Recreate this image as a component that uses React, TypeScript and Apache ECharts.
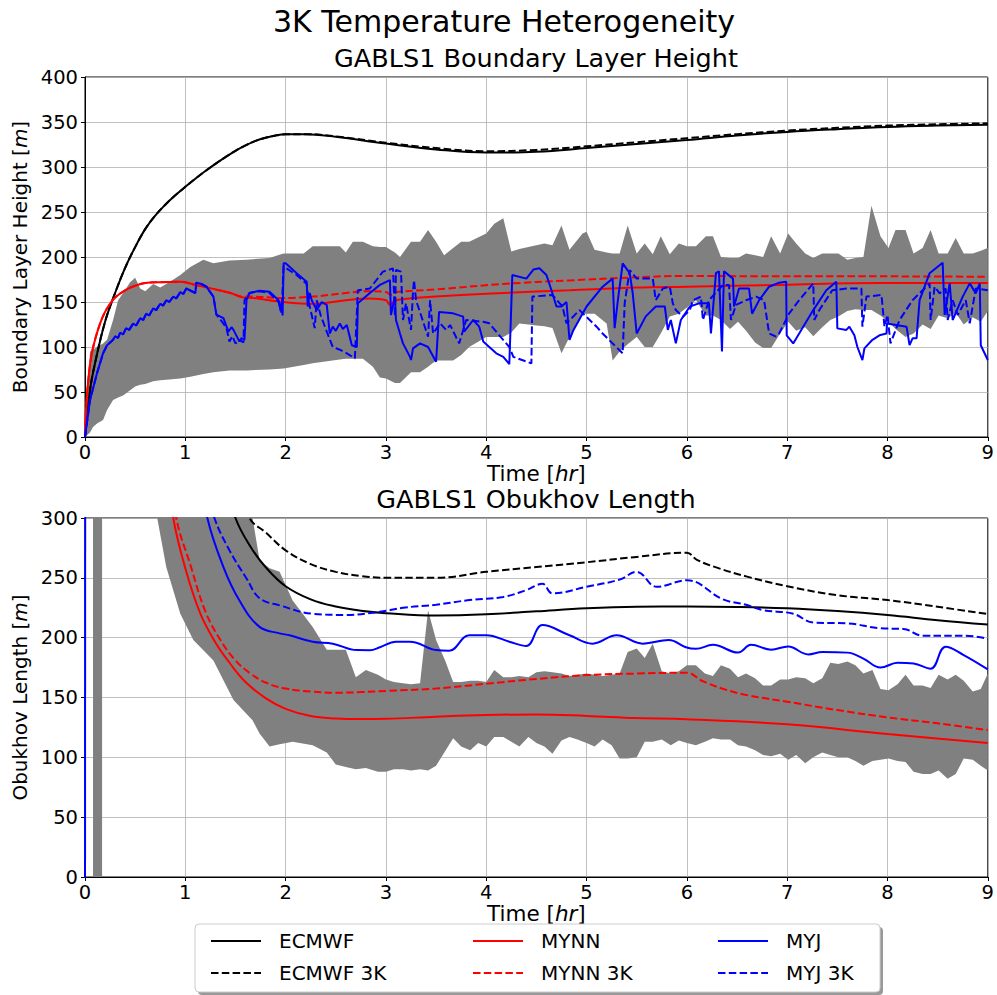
import { useEffect, useRef } from 'react';
import * as echarts from 'echarts';

const FONT = "'DejaVu Sans', sans-serif";

// ---------- GABLS1 boundary layer height [m] vs time [hr] ----------
const blhEcmwf = [
  [0, 0], [0.05, 52], [0.1, 82], [0.2, 128], [0.3, 160], [0.4, 188], [0.5, 211], [0.6, 231], [0.7, 246],
  [0.8, 258], [0.9, 268.5], [1.0, 278], [1.1, 287], [1.2, 295.5], [1.3, 303.5], [1.4, 311], [1.5, 318],
  [1.6, 324], [1.7, 329], [1.8, 332.5], [1.9, 335], [2.0, 336.3], [2.2, 336.5], [2.5, 333.5], [3.0, 326],
  [3.5, 319.5], [4.0, 316], [4.5, 317], [5.0, 321], [5.5, 325.5], [6.0, 330], [6.5, 335], [7.0, 339],
  [7.5, 342], [8.0, 344.5], [8.5, 346], [9.0, 347],
];
const blhEcmwf3k = [
  [0, 0], [0.05, 52], [0.1, 82], [0.2, 128], [0.3, 160], [0.4, 188], [0.5, 211], [0.6, 231], [0.7, 246],
  [0.8, 258], [0.9, 268.5], [1.0, 278], [1.1, 287], [1.2, 295.5], [1.3, 303.5], [1.4, 311], [1.5, 318],
  [1.6, 324], [1.7, 329], [1.8, 332.5], [1.9, 335], [2.0, 336.3], [2.2, 336.5], [2.5, 334], [3.0, 327],
  [3.5, 321], [4.0, 317.5], [4.5, 319], [5.0, 323], [5.5, 327.5], [6.0, 332], [6.5, 336.5], [7.0, 340.5],
  [7.5, 343.5], [8.0, 346], [8.5, 347.5], [9.0, 348.5],
];
const blhMynn = [
  [0, 0], [0.01, 30], [0.03, 60], [0.06, 88], [0.1, 108], [0.15, 126], [0.2, 139], [0.25, 148],
  [0.3, 155], [0.4, 163], [0.5, 168], [0.6, 171], [0.75, 172], [0.95, 172.5], [1.1, 169], [1.3, 164],
  [1.45, 160], [1.58, 155], [1.68, 154.5], [1.94, 150.5], [2.27, 148], [2.6, 152], [2.84, 154], [3.0, 152],
  [3.04, 147], [3.1, 152], [3.5, 156], [4.17, 160], [4.83, 163], [5.5, 166], [6.0, 167], [6.93, 169],
  [7.93, 171], [9.0, 171],
];
const blhMynn3k = [
  [0, 0], [0.01, 30], [0.03, 60], [0.06, 88], [0.1, 108], [0.15, 126], [0.2, 139], [0.25, 148],
  [0.3, 155], [0.4, 163], [0.5, 168], [0.6, 171], [0.75, 172], [0.95, 172.5], [1.1, 169], [1.3, 164],
  [1.45, 160], [1.58, 156], [1.68, 156], [1.94, 154.5], [2.27, 156], [2.6, 160], [2.84, 162], [3.0, 161],
  [3.05, 158], [3.1, 161], [3.5, 164], [4.17, 170], [4.83, 174], [5.5, 177.4], [6.0, 179], [6.93, 178.5],
  [7.93, 178.5], [9.0, 178],
];
const blhMyj = [
  [0, 0], [0.05, 41], [0.12, 71], [0.18, 93], [0.22, 102], [0.28, 108], [0.3, 112], [0.33, 110],
  [0.35, 116], [0.38, 114], [0.41, 121], [0.44, 119], [0.48, 126], [0.51, 124], [0.55, 132], [0.58, 130],
  [0.61, 137], [0.64, 135], [0.68, 143], [0.71, 141], [0.75, 148], [0.78, 146], [0.81, 152], [0.84, 150],
  [0.88, 156], [0.91, 154], [0.95, 161], [0.98, 159], [1.01, 165], [1.1, 160], [1.11, 171.5], [1.16, 170],
  [1.21, 167], [1.28, 156], [1.31, 136], [1.38, 132], [1.43, 117], [1.46, 122], [1.48, 119], [1.54, 106],
  [1.56, 110], [1.59, 108], [1.61, 152], [1.64, 160], [1.74, 162.6], [1.84, 161.5], [1.93, 152],
  [1.95, 140], [1.96, 150], [1.97, 135], [1.98, 193], [2.0, 193], [2.11, 182], [2.21, 172.6], [2.22, 145],
  [2.24, 160], [2.26, 152], [2.31, 141], [2.36, 150], [2.41, 146.7], [2.44, 115], [2.47, 122.6],
  [2.5, 118], [2.54, 126], [2.57, 120], [2.61, 124.4], [2.66, 102], [2.71, 100], [2.72, 148.5],
  [2.84, 160], [2.94, 169], [3.04, 174.4], [3.05, 135.6], [3.09, 156], [3.1, 130], [3.14, 115],
  [3.17, 104], [3.24, 89], [3.25, 85.5], [3.27, 98.5], [3.34, 104], [3.42, 100], [3.5, 83.7],
  [3.53, 139], [3.67, 137.4], [3.77, 133.7], [3.78, 117], [3.87, 130], [3.93, 122.6], [3.97, 106],
  [4.03, 100], [4.1, 93], [4.17, 89], [4.23, 81], [4.26, 180], [4.4, 176], [4.47, 186], [4.53, 187.4],
  [4.6, 180], [4.65, 163], [4.7, 145], [4.75, 145], [4.8, 150], [4.83, 108], [4.87, 119], [5.0, 145],
  [5.16, 167], [5.26, 176], [5.28, 121], [5.31, 150], [5.36, 193], [5.43, 182], [5.46, 160], [5.5, 115],
  [5.59, 134], [5.69, 145], [5.78, 145], [5.81, 119], [5.84, 130], [5.89, 104], [5.94, 130], [6.03, 145],
  [6.12, 148.5], [6.22, 148.5], [6.24, 115], [6.29, 182], [6.32, 184], [6.35, 95], [6.37, 184],
  [6.46, 176], [6.47, 145], [6.52, 165], [6.62, 165], [6.65, 137], [6.72, 152], [6.82, 167],
  [6.92, 171.5], [6.99, 172.6], [6.995, 113], [7.06, 104], [7.16, 122.6], [7.26, 141], [7.39, 163],
  [7.49, 172.6], [7.5, 120.7], [7.59, 119], [7.62, 122.6], [7.67, 113], [7.7, 100], [7.75, 85.5],
  [7.77, 98.5], [7.85, 108], [7.92, 113], [7.99, 115], [7.995, 126], [8.19, 122.6], [8.22, 102],
  [8.25, 109.6], [8.29, 109.6], [8.32, 152], [8.42, 182], [8.55, 193.7], [8.57, 135.6], [8.62, 170.7],
  [8.65, 130], [8.75, 156], [8.82, 170.7], [8.88, 159.6], [8.92, 170.7], [8.93, 102], [9.0, 85.5],
];
const blhMyj3k = [
  [0, 0], [0.05, 41], [0.12, 71], [0.18, 93], [0.22, 102], [0.28, 108], [0.3, 112], [0.33, 110],
  [0.35, 116], [0.38, 114], [0.41, 121], [0.44, 119], [0.48, 126], [0.51, 124], [0.55, 132], [0.58, 130],
  [0.61, 137], [0.64, 135], [0.68, 143], [0.71, 141], [0.75, 148], [0.78, 146], [0.81, 152], [0.84, 150],
  [0.88, 156], [0.91, 154], [0.95, 161], [0.98, 159], [1.01, 165], [1.1, 160], [1.11, 171.5], [1.16, 170],
  [1.21, 167], [1.28, 156], [1.31, 136], [1.38, 126], [1.41, 121], [1.44, 106], [1.47, 112], [1.5, 104],
  [1.54, 108], [1.58, 105], [1.59, 152], [1.64, 160], [1.74, 162], [1.84, 160], [1.93, 150], [1.96, 138],
  [1.98, 190], [2.0, 188], [2.11, 180], [2.21, 170], [2.23, 150], [2.29, 121], [2.31, 152], [2.35, 135],
  [2.41, 117], [2.47, 100], [2.54, 97], [2.61, 93], [2.69, 87.4], [2.72, 163], [2.84, 165],
  [2.97, 183.7], [3.07, 187.4], [3.09, 133.7], [3.1, 185.5], [3.15, 183.7], [3.17, 130], [3.2, 148.5],
  [3.25, 119], [3.27, 161.5], [3.28, 174.4], [3.3, 152], [3.42, 111.5], [3.44, 152], [3.47, 115],
  [3.54, 126.3], [3.6, 119], [3.64, 124.4], [3.73, 104], [3.8, 130], [3.97, 128], [4.03, 126.3],
  [4.13, 113], [4.23, 100], [4.27, 89], [4.45, 81.8], [4.46, 156], [4.66, 157.8], [4.76, 145],
  [4.8, 126.3], [4.93, 141], [5.1, 122.6], [5.16, 115], [5.36, 93], [5.38, 148.5], [5.43, 185.5],
  [5.5, 176], [5.66, 176], [5.69, 152], [5.76, 165], [5.83, 167], [5.86, 148.5], [5.89, 141],
  [5.96, 133.7], [6.03, 141], [6.06, 152], [6.14, 156], [6.16, 130], [6.22, 152], [6.36, 169],
  [6.42, 169], [6.44, 130], [6.49, 146.7], [6.59, 152], [6.69, 156], [6.77, 152], [6.82, 115],
  [6.89, 111.5], [6.92, 115], [7.02, 137.4], [7.12, 152], [7.26, 170.7], [7.27, 130], [7.32, 141],
  [7.45, 163], [7.59, 165], [7.74, 165], [7.75, 122.6], [7.79, 156], [7.94, 157.8], [7.97, 122.6],
  [8.0, 135.6], [8.03, 104], [8.12, 130], [8.25, 152], [8.42, 170.7], [8.43, 130], [8.47, 167],
  [8.52, 159.6], [8.58, 165], [8.6, 130], [8.65, 152], [8.7, 135.6], [8.78, 152], [8.82, 126.3],
  [8.88, 165], [9.0, 163],
];

// ensemble spread of boundary layer height
const blhBandT = [
  0, 0.05, 0.08, 0.12, 0.18, 0.22, 0.28, 0.33, 0.38, 0.45, 0.5, 0.55, 0.6, 0.68, 0.75, 0.84, 0.95, 1.05,
  1.18, 1.28, 1.44, 1.61, 1.84, 1.98, 2.18, 2.27, 2.54, 2.6, 2.67, 2.77, 2.87, 2.94, 3.0, 3.09, 3.14,
  3.25, 3.34, 3.42, 3.5, 3.58, 3.67, 3.75, 3.83, 4.0, 4.08, 4.17, 4.25, 4.33, 4.42, 4.5, 4.58, 4.66,
  4.75, 4.83, 4.96, 5.0, 5.08, 5.2, 5.26, 5.33, 5.41, 5.5, 5.58, 5.66, 5.74, 5.83, 5.92, 6.0, 6.09,
  6.19, 6.26, 6.34, 6.43, 6.51, 6.59, 6.68, 6.76, 6.84, 6.93, 7.01, 7.09, 7.18, 7.26, 7.35, 7.43, 7.51,
  7.6, 7.68, 7.76, 7.84, 7.93, 8.01, 8.08, 8.18, 8.26, 8.35, 8.43, 8.51, 8.6, 8.68, 8.76, 8.85, 8.93, 9.0,
];
const blhBandLo = [
  0, 5, 11, 15, 19, 30, 41, 44, 46, 52, 56, 58, 59, 62, 63, 64, 65, 67,
  70, 72, 74, 74, 75, 76, 80, 82, 86, 87, 87, 87, 78, 66, 65, 60, 60,
  72, 72, 78, 85, 85, 85, 91, 100, 111, 111, 111, 116, 126, 125, 124, 123, 121,
  93, 111, 137, 137, 137, 126, 85, 95, 103, 111, 100, 100, 115, 134, 137, 144, 152,
  135, 135, 130, 120, 128, 118, 105, 99, 99, 115, 128, 118, 122, 112, 122, 130, 134,
  140, 142, 141, 141, 135, 128, 120, 111, 115, 125, 120, 135, 132, 138, 125, 133, 128, 140,
];
const blhBandHi = [
  0, 95, 97, 100, 104, 108, 130, 152, 160, 172, 177, 165, 162, 170, 166, 172, 180, 189,
  197, 193, 196, 197, 199, 204, 204, 212, 212, 205, 217, 217, 212, 211, 211, 205, 200,
  217, 217, 230, 217, 202, 210, 217, 217, 226, 237, 243, 206, 209, 211, 213, 215, 213,
  235, 208, 226, 228, 208, 205, 204, 204, 235, 204, 215, 203, 223, 203, 215, 212, 212,
  223, 223, 200, 199, 199, 204, 202, 200, 223, 204, 226, 215, 204, 199, 204, 204, 204,
  197, 199, 200, 257, 223, 210, 230, 230, 204, 210, 230, 204, 204, 221, 204, 204, 207, 210,
];

// ---------- GABLS1 Obukhov length [m] vs time [hr] ----------
const obEcmwf = [
  [1.0, 520], [1.2, 410], [1.35, 345], [1.5, 300], [1.65, 276], [1.8, 259], [2.0, 243], [2.25, 232],
  [2.5, 226], [2.75, 222.5], [3.0, 220.5], [3.5, 218.5], [4.0, 219.5], [4.5, 222], [5.0, 224.5],
  [5.5, 225.8], [6.0, 226], [6.5, 225.6], [7.0, 224.5], [7.5, 222.2], [8.0, 218.9], [8.5, 214.6], [9.0, 211],
];
const obEcmwf3k = [
  [1.1, 520], [1.3, 420], [1.5, 340], [1.64, 300], [1.8, 288], [2.0, 273], [2.25, 261.5], [2.5, 255],
  [2.75, 251.5], [3.0, 250], [3.5, 250], [4.0, 255], [4.5, 259], [5.0, 263], [5.5, 267.5], [6.0, 271],
  [6.1, 265], [6.3, 258.5], [6.6, 251], [7.0, 243], [7.5, 235.5], [8.0, 231.4], [8.5, 225.8], [9.0, 219.7],
];
const obMynn = [
  [0.6, 520], [0.75, 380], [0.88, 300], [1.0, 258], [1.15, 220], [1.3, 196], [1.45, 178], [1.6, 163],
  [1.8, 149.5], [2.0, 140.5], [2.25, 134.5], [2.5, 132.5], [2.75, 132], [3.0, 132.2], [3.5, 134],
  [4.0, 135.4], [4.5, 135.8], [5.0, 134.6], [5.5, 132.8], [6.0, 131.9], [7.0, 127.6], [8.0, 119.5], [9.0, 112],
];
const obMynn3k = [
  [0.62, 520], [0.78, 380], [0.91, 300], [1.05, 261], [1.2, 222], [1.35, 198], [1.5, 181], [1.65, 170],
  [1.8, 162.5], [2.0, 157.5], [2.25, 155], [2.5, 154], [2.75, 154.5], [3.0, 155.5], [3.5, 157.5],
  [4.0, 161.5], [4.5, 165.5], [5.0, 168.7], [5.5, 170], [6.0, 170.7], [6.15, 164], [6.35, 157.5],
  [6.6, 152], [7.0, 146.5], [7.5, 139.5], [8.0, 133.4], [8.5, 128.4], [9.0, 122.8],
];
const obMyjStart = [[0, -50], [0.015, 3000]];
const obMyj = [
  [0.015, 3000], [0.5, 1000], [0.9, 480], [1.1, 360], [1.22, 300], [1.38, 259], [1.54, 231],
  [1.74, 209], [1.94, 203.6], [2.04, 202], [2.27, 196.6], [2.47, 195], [2.71, 189.6], [2.84, 189.5],
  [2.94, 192], [3.1, 196.6], [3.24, 196.6], [3.5, 189.6], [3.63, 189], [3.83, 202], [4.0, 202],
  [4.23, 196.6], [4.4, 193], [4.56, 210.5], [4.83, 202], [5.06, 195], [5.3, 202], [5.56, 195], [5.82, 198],
  [5.99, 192], [6.09, 190.7], [6.26, 194], [6.51, 187.6], [6.64, 194], [6.84, 190], [7.01, 192.6],
  [7.21, 186], [7.35, 188], [7.6, 187.5], [7.76, 182.5], [7.93, 175], [8.1, 179], [8.26, 178.4],
  [8.43, 174], [8.58, 192.5], [8.76, 185.5], [9.0, 173.5],
];
const obMyj3k = [
  [0.5, 1200], [0.9, 500], [1.1, 380], [1.2, 330], [1.29, 300], [1.44, 273], [1.61, 249.5], [1.74, 233],
  [1.94, 227], [2.27, 220], [2.6, 219], [2.94, 221.6], [3.17, 225], [3.5, 227.5], [3.83, 231.4], [4.17, 234],
  [4.4, 239.8], [4.56, 245], [4.66, 237], [5.0, 242.5], [5.33, 248.6], [5.5, 255], [5.7, 242.5], [6.0, 248],
  [6.36, 232], [6.59, 227.5], [6.76, 223], [7.06, 220], [7.26, 212.6], [7.6, 212], [7.93, 207.8],
  [8.16, 207.3], [8.35, 201.7], [8.76, 201.7], [9.0, 199],
];

// ensemble spread of Obukhov length (values beyond the axis range are clipped)
const obBandT = [
  0.08, 0.17, 0.18, 0.3, 0.45, 0.6, 0.72, 0.81, 0.95, 1.08, 1.28, 1.48, 1.67, 1.74, 1.84, 1.94, 2.07, 2.27,
  2.41, 2.5, 2.6, 2.7, 2.8, 2.92, 3.0, 3.08, 3.17, 3.25, 3.34, 3.42, 3.5, 3.59, 3.67, 3.75, 3.84, 3.92,
  4.0, 4.08, 4.17, 4.25, 4.33, 4.42, 4.5, 4.58, 4.66, 4.75, 4.83, 4.91, 5.0, 5.08, 5.16, 5.25, 5.33, 5.41,
  5.5, 5.58, 5.66, 5.75, 5.84, 5.92, 6.0, 6.09, 6.18, 6.26, 6.34, 6.43, 6.51, 6.59, 6.68, 6.76, 6.84,
  6.93, 7.01, 7.09, 7.18, 7.26, 7.35, 7.43, 7.51, 7.6, 7.68, 7.76, 7.85, 7.93, 8.01, 8.1, 8.18, 8.26,
  8.35, 8.43, 8.51, 8.6, 8.68, 8.76, 8.85, 8.93, 9.0,
];
const obBandLo = [
  -1000, -1000, 30000, 3000, 900, 450, 300, 259, 220, 198, 181, 148, 131, 120, 109, 111, 113, 110,
  104, 94, 92, 90, 91, 88, 88, 90, 90, 89, 90, 89, 93, 105, 116, 109, 106, 112,
  109, 117, 117, 113, 109, 117, 112, 109, 103, 114, 117, 115, 112, 109, 115, 110, 99, 99,
  100, 113, 113, 115, 110, 114, 112, 110, 113, 116, 115, 115, 110, 109, 106, 102, 101,
  103, 98, 102, 95, 100, 104, 102, 100, 100, 97, 93, 97, 98, 99, 97, 96, 88,
  86, 86, 89, 82, 86, 99, 98, 93, 89,
];
const obBandHi = [
  30000, 30000, 60000, 30000, 12000, 4000, 2000, 1200, 800, 600, 430, 340, 300, 265, 258, 255, 231, 209,
  190, 190, 190, 167, 173, 169, 165, 163, 162, 161, 162, 223, 198, 181, 163, 163, 164, 164,
  163, 173, 167, 167, 168, 167, 171, 172, 171, 170, 168, 169, 170, 169, 168, 169, 170, 188,
  191, 183, 195, 172, 170, 172, 177, 177, 170, 168, 177, 174, 167, 170, 166, 160, 160,
  165, 165, 167, 166, 162, 166, 179, 178, 180, 177, 170, 173, 157, 156, 161, 169, 160,
  160, 158, 169, 165, 169, 164, 155, 157, 170,
];

const timeRange = [0, 9];
const blhRange = [0, 400];
const obRange = [0, 300];

const BLACK = '#000000';
const RED = '#ff0000';
const BLUE = '#0000ff';
const GREY = '#808080';
const DASH = [7.5, 3.3];

function lineSeries(name: string, data: number[][], color: string, dashed: boolean, gi: number, smooth: number | boolean) {
  return {
    type: 'line',
    name,
    data,
    xAxisIndex: gi,
    yAxisIndex: gi,
    symbol: 'none',
    smooth,
    clip: true,
    lineStyle: { color, width: 2, type: dashed ? DASH : 'solid' },
    itemStyle: { color },
    z: 3,
  };
}

// min/max envelope drawn as one polygon through the axis scales
function bandSeries(gi: number, T: number[], lo: number[], hi: number[]) {
  return {
    type: 'custom',
    xAxisIndex: gi,
    yAxisIndex: gi,
    clip: true,
    silent: true,
    z: 1,
    data: T.map((t, i) => [t, lo[i], hi[i]]),
    encode: { x: 0, y: [1, 2] },
    renderItem: (params: any, api: any) => {
      if (params.dataIndex !== 0) return { type: 'group', children: [] };
      const upper = T.map((t, i) => api.coord([t, hi[i]]));
      const lower = T.map((t, i) => api.coord([t, lo[i]])).reverse();
      return {
        type: 'polygon',
        shape: { points: upper.concat(lower) },
        style: { fill: GREY, stroke: 'none' },
      };
    },
  };
}

const axisText = { color: '#000', fontFamily: FONT };

function xAxis(gi: number) {
  return {
    type: 'value',
    gridIndex: gi,
    min: timeRange[0],
    max: timeRange[1],
    interval: 1,
    name: 'Time [{i|hr}]',
    nameLocation: 'middle',
    nameGap: 20,
    nameTextStyle: {
      ...axisText, fontSize: 21.5,
      rich: { i: { ...axisText, fontSize: 21.5, fontStyle: 'italic' } },
    },
    axisLine: { show: true, onZero: false, lineStyle: { color: '#000', width: 1 } },
    axisTick: { show: true, length: 4, lineStyle: { color: '#000' } },
    axisLabel: { ...axisText, fontSize: 19.5, margin: 5 },
    splitLine: { show: true, lineStyle: { color: '#b0b0b0', width: 0.8 } },
  };
}

function yAxis(gi: number, range: number[], name: string) {
  return {
    type: 'value',
    gridIndex: gi,
    min: range[0],
    max: range[1],
    interval: 50,
    name,
    nameLocation: 'middle',
    nameGap: 54,
    nameTextStyle: {
      ...axisText, fontSize: 20,
      rich: { i: { ...axisText, fontSize: 20, fontStyle: 'italic' } },
    },
    axisLine: { show: true, onZero: false, lineStyle: { color: '#000', width: 1 } },
    axisTick: { show: true, length: 4, lineStyle: { color: '#000' } },
    axisLabel: { ...axisText, fontSize: 19.5, margin: 7 },
    splitLine: { show: true, lineStyle: { color: '#b0b0b0', width: 0.8 } },
  };
}

const legendEntries = [
  { name: 'ECMWF', left: 205, top: 926 },
  { name: 'ECMWF 3K', left: 205, top: 958 },
  { name: 'MYNN', left: 467, top: 926 },
  { name: 'MYNN 3K', left: 467, top: 958 },
  { name: 'MYJ', left: 712, top: 926 },
  { name: 'MYJ 3K', left: 712, top: 958 },
];

export default function App() {
  const ref = useRef<HTMLDivElement>(null);

  useEffect(() => {
    if (!ref.current) return;
    const chart = echarts.init(ref.current, undefined, { renderer: 'svg' });

    const option = {
      animation: false,
      backgroundColor: '#ffffff',
      textStyle: { fontFamily: FONT },
      title: [
        {
          text: '3K Temperature Heterogeneity',
          left: 499, top: 1, textAlign: 'center',
          textStyle: { fontSize: 30, fontWeight: 'normal', color: '#000', fontFamily: FONT },
        },
        {
          text: 'GABLS1 Boundary Layer Height',
          left: 531, top: 40, textAlign: 'center',
          textStyle: { fontSize: 25.5, fontWeight: 'normal', color: '#000', fontFamily: FONT },
        },
        {
          text: 'GABLS1 Obukhov Length',
          left: 531, top: 481, textAlign: 'center',
          textStyle: { fontSize: 25.5, fontWeight: 'normal', color: '#000', fontFamily: FONT },
        },
      ],
      grid: [
        { left: 85, top: 77, width: 904, height: 360, show: true, borderColor: '#000', borderWidth: 1, backgroundColor: 'transparent' },
        { left: 85, top: 518, width: 904, height: 359, show: true, borderColor: '#000', borderWidth: 1, backgroundColor: 'transparent' },
      ],
      xAxis: [xAxis(0), xAxis(1)],
      yAxis: [
        yAxis(0, blhRange, 'Boundary Layer Height [{i|m}]'),
        yAxis(1, obRange, 'Obukhov Length [{i|m}]'),
      ],
      legend: legendEntries.map((e) => ({
        data: [e.name],
        left: e.left,
        top: e.top,
        itemWidth: 50,
        itemHeight: 14,
        selectedMode: false,
        z: 5,
        itemStyle: { opacity: 0 },
        textStyle: { fontSize: 20, color: '#000', fontFamily: FONT, padding: [0, 0, 0, 13] },
      })),
      graphic: [
        {
          type: 'rect', z: 1, silent: true,
          shape: { x: 198, y: 927, width: 685, height: 68, r: 4 },
          style: { fill: 'rgba(0,0,0,0.4)' },
        },
        {
          type: 'rect', z: 1, silent: true,
          shape: { x: 195, y: 924, width: 685, height: 68, r: 4 },
          style: { fill: '#ffffff', stroke: '#cccccc', lineWidth: 1 },
        },
      ],
      series: [
        bandSeries(0, blhBandT, blhBandLo, blhBandHi),
        lineSeries('ECMWF', blhEcmwf, BLACK, false, 0, 0.4),
        lineSeries('ECMWF 3K', blhEcmwf3k, BLACK, true, 0, 0.4),
        lineSeries('MYNN', blhMynn, RED, false, 0, 0.4),
        lineSeries('MYNN 3K', blhMynn3k, RED, true, 0, 0.4),
        lineSeries('MYJ', blhMyj, BLUE, false, 0, false),
        lineSeries('MYJ 3K', blhMyj3k, BLUE, true, 0, false),
        bandSeries(1, obBandT, obBandLo, obBandHi),
        lineSeries('ECMWF', obEcmwf, BLACK, false, 1, 0.4),
        lineSeries('ECMWF 3K', obEcmwf3k, BLACK, true, 1, 0.4),
        lineSeries('MYNN', obMynn, RED, false, 1, 0.4),
        lineSeries('MYNN 3K', obMynn3k, RED, true, 1, 0.4),
        lineSeries('MYJ', obMyjStart, BLUE, false, 1, false),
        lineSeries('MYJ', obMyj, BLUE, false, 1, 0.4),
        lineSeries('MYJ 3K', obMyj3k, BLUE, true, 1, 0.4),
      ],
    };

    chart.setOption(option as any);
    return () => chart.dispose();
  }, []);

  return (
    <div
      ref={ref}
      style={{ position: 'absolute', left: 0, top: 0, width: 997, height: 995, background: '#fff' }}
    />
  );
}
